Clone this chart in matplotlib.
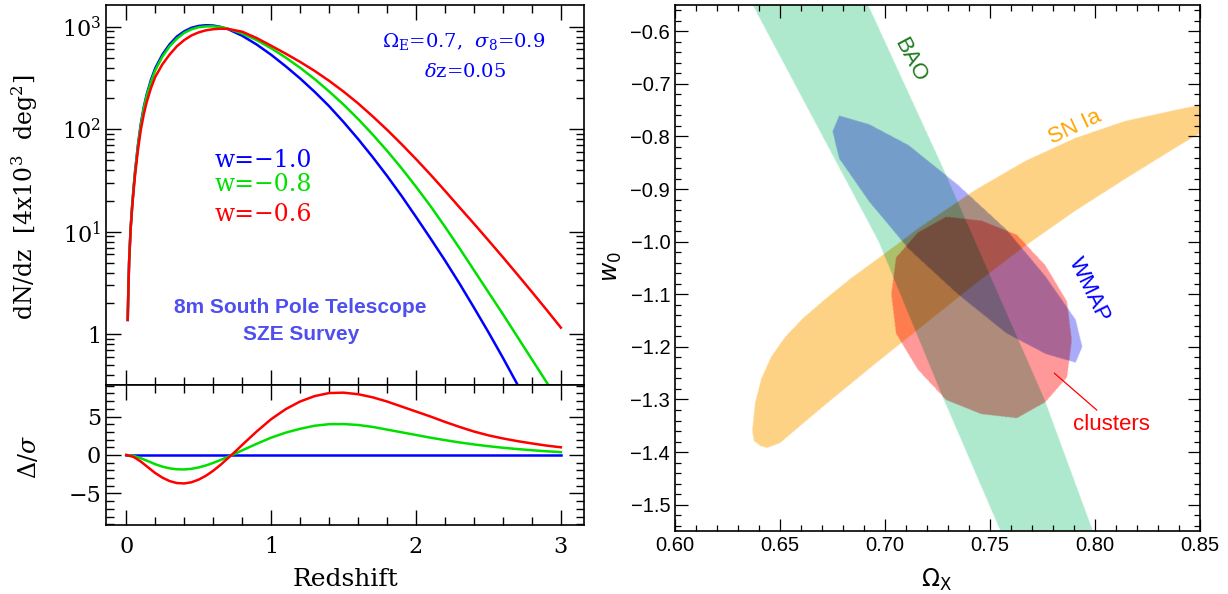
"""Cluster counts versus redshift for three dark-energy models, and the
joint constraints on (Omega_X, w0) from BAO, SN Ia, WMAP and clusters."""

import matplotlib

matplotlib.use("Agg")

import matplotlib.pyplot as plt
import numpy as np
from matplotlib.path import Path
from matplotlib.ticker import FixedLocator, FuncFormatter, LogLocator, MultipleLocator, NullFormatter
from matplotlib.transforms import Affine2D

plt.rcParams["mathtext.fontset"] = "dejavuserif"

# --- redshift distribution dN/dz [per 4x10^3 deg^2] ---------------------
Z_COUNTS = [0.01, 0.015, 0.02, 0.03, 0.04, 0.05, 0.06, 0.08, 0.10, 0.12,
            0.14, 0.17, 0.20, 0.25, 0.30, 0.35, 0.40, 0.45, 0.50, 0.55,
            0.60, 0.65, 0.70, 0.80, 0.90, 1.00, 1.10, 1.20, 1.30, 1.40,
            1.50, 1.60, 1.70, 1.80, 1.90, 2.00, 2.10, 2.20, 2.30, 2.40,
            2.50, 2.60, 2.70, 2.80, 2.90, 3.00]
DNDZ_W10 = [1.38, 2.95, 5.25, 10.7, 17.4, 26.3, 38.0, 69.2, 112, 162,
            216, 302, 394, 537, 676, 804, 902, 977, 1019, 1035,
            1028, 998, 951, 817, 671, 533, 412, 313, 232, 168,
            117.5, 80.4, 53.7, 35.1, 22.4, 13.96, 8.61, 5.25, 3.13, 1.82,
            1.047, 0.589, 0.324, 0.174, 0.091, 0.047]
DNDZ_W08 = [1.38, 2.95, 5.25, 10.7, 17.2, 25.7, 37.2, 67.6, 108, 157,
            209, 288, 376, 513, 646, 767, 871, 944, 989, 1007,
            1009, 993, 959, 861, 741, 617, 501, 398, 309, 234,
            174, 126, 89.1, 61.7, 41.7, 27.5, 17.8, 11.2, 6.92, 4.22,
            2.57, 1.57, 0.944, 0.569, 0.343, 0.204]
DNDZ_W06 = [1.38, 2.88, 5.13, 10.5, 16.6, 24.5, 34.7, 61.7, 97.7, 138,
            182, 251, 324, 431, 537, 646, 741, 822, 881, 923,
            946, 957, 953, 895, 776, 653, 547, 454, 371, 297,
            233, 179, 134, 98.9, 71.6, 51.2, 36.1, 25.1, 17.3, 12.0,
            8.24, 5.64, 3.83, 2.59, 1.74, 1.16]

# --- significance of the difference relative to w = -1 --------------------
Z_DIFF = [0.0, 0.05, 0.10, 0.15, 0.20, 0.25, 0.30, 0.35, 0.40, 0.45, 0.50,
          0.55, 0.60, 0.65, 0.70, 0.75, 0.80, 0.90, 1.00, 1.10, 1.20, 1.30,
          1.40, 1.50, 1.60, 1.70, 1.80, 1.90, 2.00, 2.10, 2.20, 2.30, 2.40,
          2.50, 2.60, 2.70, 2.80, 2.90, 3.00]
SIGMA_W10 = [0.0] * 39
SIGMA_W08 = [0.0, -0.12, -0.42, -0.80, -1.20, -1.52, -1.74, -1.86, -1.88,
             -1.80, -1.62, -1.36, -1.03, -0.66, -0.25, 0.15, 0.60, 1.45,
             2.25, 2.90, 3.40, 3.80, 4.00, 4.02, 3.90, 3.65, 3.30, 2.95,
             2.60, 2.25, 1.93, 1.63, 1.37, 1.14, 0.94, 0.77, 0.62, 0.48, 0.37]
SIGMA_W06 = [0.0, -0.25, -0.85, -1.60, -2.35, -2.95, -3.40, -3.65, -3.70,
             -3.55, -3.20, -2.70, -2.05, -1.30, -0.45, 0.40, 1.30, 3.05,
             4.65, 5.95, 6.95, 7.65, 8.05, 8.10, 7.90, 7.50, 6.95, 6.30,
             5.65, 5.00, 4.30, 3.65, 3.05, 2.55, 2.15, 1.80, 1.50, 1.22, 1.00]

# --- constraint regions in the (Omega_X, w0) plane ------------------------
BAO_W0 = [-0.55, -0.85, -1.0, -1.3, -1.55]
BAO_LEFT = [0.637, 0.677, 0.697, 0.728, 0.755]
BAO_RIGHT = [0.692, 0.7265, 0.743, 0.776, 0.799]

# SN Ia contour, traced along the upper edge, round the low tip, back along
# the lower edge
SN_OMEGA = [0.8857, 0.8667, 0.8500, 0.8381, 0.8143, 0.7905, 0.7667, 0.7429,
            0.7167, 0.6976, 0.6833, 0.6710, 0.6610, 0.6524, 0.6457, 0.6410,
            0.6381, 0.6367, 0.6376, 0.6405, 0.6438, 0.6500, 0.6595, 0.6714,
            0.6952, 0.7190, 0.7429, 0.7667, 0.7905, 0.8143, 0.8381, 0.8500,
            0.8667]
SN_W0 = [-0.7363, -0.7306, -0.7401, -0.7496, -0.7705, -0.8029, -0.8466,
         -0.9017, -0.9721, -1.0291, -1.0709, -1.1108, -1.1451, -1.1812,
         -1.2192, -1.2610, -1.3067, -1.3599, -1.3789, -1.3884, -1.3922,
         -1.3827, -1.3504, -1.3105, -1.2325, -1.1565, -1.0804, -1.0082,
         -0.9416, -0.8808, -0.8219, -0.7934, -0.7553]

WMAP_CENTER = (0.7345, -0.995)
WMAP_AXES = ((0.0595, -0.205), (0.0, 0.104))
CLUSTER_CENTER = (0.746, -1.144)
CLUSTER_AXES = ((0.0, 0.184), (0.043, -0.044))

BAO_RGB = (174, 234, 206)
WMAP_RGB = (170, 172, 250)
SN_RGB = (253, 210, 132)
CLUSTER_RGB = (255, 152, 152)

SERIF = "DejaVu Serif"
SANS = "Liberation Sans"


def ellipse_path(center, axes):
    """Unit circle mapped onto an ellipse given by two conjugate semi-axes."""
    (ux, uy), (vx, vy) = axes
    cx, cy = center
    return Affine2D().from_values(ux, uy, vx, vy, cx, cy).transform_path(Path.unit_circle())


def style_left(ax):
    ax.tick_params(which="both", direction="in", top=True, right=True,
                   labelsize=16, width=1.0)
    ax.tick_params(which="major", length=11)
    ax.tick_params(which="minor", length=5.5)
    for lab in ax.get_xticklabels() + ax.get_yticklabels():
        lab.set_fontfamily(SERIF)
    for sp in ax.spines.values():
        sp.set_linewidth(1.2)


fig = plt.figure(figsize=(12.28, 5.94), dpi=100)
ax_n = fig.add_axes([0.0863, 0.3519, 0.3893, 0.6397])
ax_d = fig.add_axes([0.0863, 0.1162, 0.3893, 0.2357])
ax_c = fig.add_axes([0.5497, 0.1061, 0.4275, 0.8855])

BLUE, GREEN, RED = "#0000ff", "#00e000", "#ff0000"

# top: counts per unit redshift
for vals, col in ((DNDZ_W10, BLUE), (DNDZ_W08, GREEN), (DNDZ_W06, RED)):
    ax_n.plot(Z_COUNTS, vals, color=col, lw=1.8)
ax_n.set_yscale("log")
ax_n.set_xlim(-0.14, 3.16)
ax_n.set_ylim(0.32, 1630)
ax_n.xaxis.set_major_locator(MultipleLocator(1))
ax_n.xaxis.set_minor_locator(MultipleLocator(0.2))
ax_n.xaxis.set_major_formatter(NullFormatter())
ax_n.yaxis.set_major_locator(FixedLocator([1, 10, 100, 1000]))
ax_n.yaxis.set_minor_locator(LogLocator(base=10, subs=np.arange(2, 10)))
ax_n.yaxis.set_minor_formatter(NullFormatter())
ax_n.yaxis.set_major_formatter(FuncFormatter(
    lambda v, _: "1" if v < 5 else r"$\mathregular{10^{%d}}$" % round(np.log10(v))))
style_left(ax_n)

ax_n.text(2.89, 713, r"$\Omega_{\rm E}$=0.7,  $\sigma_8$=0.9", color=BLUE,
          fontsize=14, ha="right", va="center", family=SERIF)
ax_n.text(2.34, 364, r"$\delta$z=0.05", color=BLUE, fontsize=14,
          ha="center", va="center", family=SERIF)
for yv, label, col in ((50, "w=\u22121.0", BLUE), (28.6, "w=\u22120.8", GREEN),
                       (14.6, "w=\u22120.6", RED)):
    ax_n.text(0.607, yv, label, color=col, fontsize=17, ha="left", va="center",
              family=SERIF)
ax_n.text(1.2, 1.82, "8m South Pole Telescope", color="#4f4fef", fontsize=15,
          fontweight="bold", ha="center", va="center", family=SANS)
ax_n.text(1.21, 1.0, "SZE Survey", color="#4f4fef", fontsize=15,
          fontweight="bold", ha="center", va="center", family=SANS)

# bottom: difference in units of sigma
for vals, col in ((SIGMA_W10, BLUE), (SIGMA_W08, GREEN), (SIGMA_W06, RED)):
    ax_d.plot(Z_DIFF, vals, color=col, lw=1.8)
ax_d.set_xlim(-0.14, 3.16)
ax_d.set_ylim(-9.1, 9.1)
ax_d.xaxis.set_major_locator(MultipleLocator(1))
ax_d.xaxis.set_minor_locator(MultipleLocator(0.2))
ax_d.yaxis.set_major_locator(FixedLocator([-5, 0, 5]))
ax_d.yaxis.set_minor_locator(MultipleLocator(1))
ax_d.yaxis.set_major_formatter(FuncFormatter(lambda v, _: f"{v:.0f}".replace("-", "\u2212")))
style_left(ax_d)
ax_d.tick_params(axis="x", pad=8)

fig.text(0.0204, 0.667, r"dN/dz  [4x10$^3$  deg$^2$]", rotation=90,
         ha="center", va="center", fontsize=17, family=SERIF)
fig.text(0.0236, 1 - 457 / 594, r"$\Delta/\sigma$", rotation=90, ha="center",
         va="center", fontsize=17, family=SERIF)
fig.text(345 / 1228, 1 - 579 / 594, "Redshift", ha="center", va="center",
         fontsize=18, family=SERIF)

# right: overlapping constraint regions, blended multiplicatively
xlim_c = (0.6, 0.85)
ylim_c = (-1.55, -0.55)
gx = np.linspace(*xlim_c, 1050)
gy = np.linspace(*ylim_c, 1052)
GX, GY = np.meshgrid(gx, gy)
pts = np.column_stack([GX.ravel(), GY.ravel()])

bao_path = Path(np.column_stack([BAO_LEFT + BAO_RIGHT[::-1], BAO_W0 + BAO_W0[::-1]]))
sn_path = Path(np.column_stack([SN_OMEGA + SN_OMEGA[:1], SN_W0 + SN_W0[:1]]), closed=True)
regions = [
    (bao_path, BAO_RGB),
    (ellipse_path(WMAP_CENTER, WMAP_AXES), WMAP_RGB),
    (sn_path, SN_RGB),
    (ellipse_path(CLUSTER_CENTER, CLUSTER_AXES), CLUSTER_RGB),
]
img = np.ones((pts.shape[0], 3))
for path, rgb in regions:
    inside = path.contains_points(pts)
    img[inside] *= np.array(rgb) / 255.0
img = img.reshape(len(gy), len(gx), 3)
ax_c.imshow(img, extent=(*xlim_c, *ylim_c), origin="lower", aspect="auto",
            interpolation="bilinear", zorder=0)
ax_c.set_xlim(*xlim_c)
ax_c.set_ylim(*ylim_c)

ax_c.xaxis.set_major_locator(MultipleLocator(0.05))
ax_c.xaxis.set_minor_locator(MultipleLocator(0.01))
ax_c.yaxis.set_major_locator(MultipleLocator(0.1))
ax_c.yaxis.set_minor_locator(MultipleLocator(0.02))
ax_c.xaxis.set_major_formatter(FuncFormatter(lambda v, _: f"{v:.2f}"))
ax_c.yaxis.set_major_formatter(FuncFormatter(lambda v, _: f"{v:.1f}".replace("-", "\u2212")))
ax_c.tick_params(which="both", direction="in", top=True, right=True,
                 labelsize=14.5, width=0.9)
ax_c.tick_params(which="major", length=9)
ax_c.tick_params(which="minor", length=4.5)
for lab in ax_c.get_xticklabels() + ax_c.get_yticklabels():
    lab.set_fontfamily(SANS)
for sp in ax_c.spines.values():
    sp.set_linewidth(1.2)

ax_c.text(0.712, -0.655, "BAO", color="#1e7a1e", fontsize=16, rotation=-62,
          ha="center", va="center", family=SANS)
ax_c.text(0.7904, -0.7816, "SN Ia", color="#ffa500", fontsize=16, rotation=25,
          ha="center", va="center", family=SANS)
ax_c.text(0.7974, -1.092, "WMAP", color="#0000ff", fontsize=16, rotation=-64,
          ha="center", va="center", family=SANS)
ax_c.text(0.8078, -1.3485, "clusters", color="#ff0000", fontsize=16,
          ha="center", va="center", family=SANS)
ax_c.plot([0.7807, 0.8008], [-1.2502, -1.32], color="#ff0000", lw=0.9)

fig.text(612 / 1228, 1 - 267 / 594, r"$w_0$", rotation=90, ha="center",
         va="center", fontsize=17, math_fontfamily="dejavusans")
fig.text(937 / 1228, 1 - 580 / 594, r"$\Omega_{\mathrm{X}}$", ha="center",
         va="center", fontsize=17, math_fontfamily="dejavusans")

fig.savefig("out.png", dpi=100)
